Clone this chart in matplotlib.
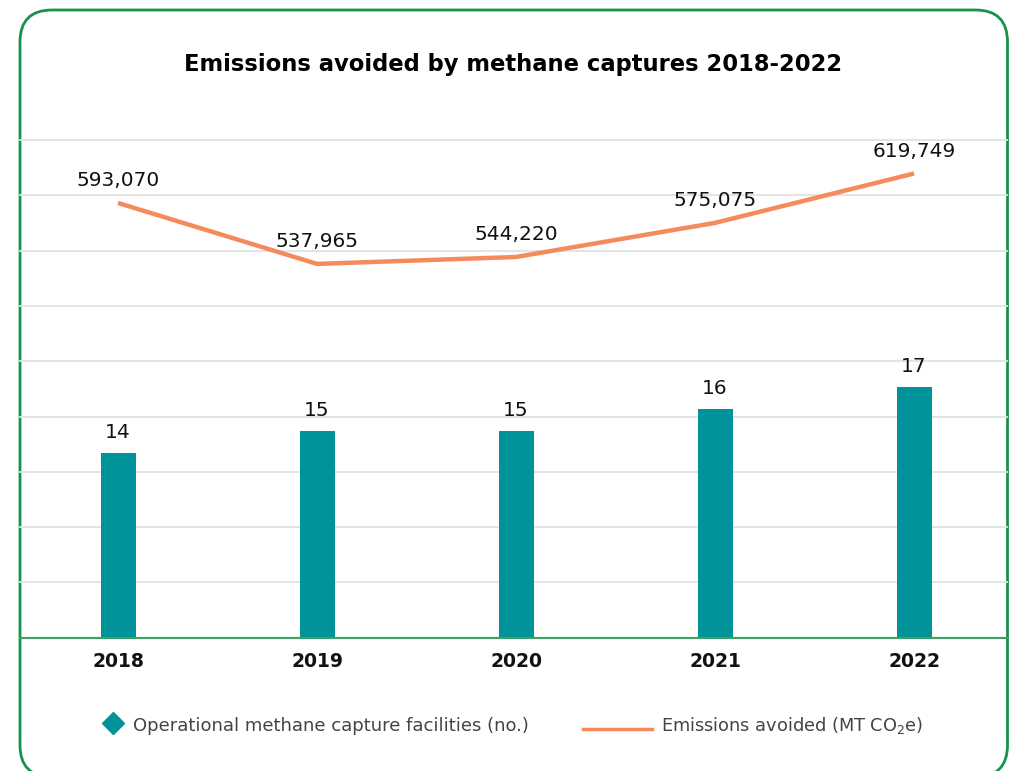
import matplotlib
matplotlib.use("Agg")
import matplotlib.pyplot as plt
from matplotlib.patches import FancyBboxPatch
from matplotlib.lines import Line2D

years = ["2018", "2019", "2020", "2021", "2022"]
facilities = [14, 15, 15, 16, 17]
emissions = [593070, 537965, 544220, 575075, 619749]

TEAL = "#00939A"
ORANGE = "#F58B5D"
GREEN = "#17924B"
GRID = "#E2E2E2"

W, H = 1011, 771
fig = plt.figure(figsize=(W / 100, H / 100), dpi=100)

def fx(p):
    return p / W

def fy(p):
    return 1 - p / H

# border
border = FancyBboxPatch((0.20, -0.06), 9.875, 7.67,
                        boxstyle="round,pad=0,rounding_size=0.32",
                        transform=fig.dpi_scale_trans, facecolor="white",
                        edgecolor=GREEN, linewidth=2.0, clip_on=False, zorder=0)
fig.add_artist(border)

left, right, top, bottom = 20, 1007, 140, 637.7
ax = fig.add_axes([fx(left), fy(bottom), fx(right - left), (bottom - top) / H])
ax.set_facecolor("none")
x = list(range(len(years)))

ax2 = ax.twinx()

ax.set_xlim(-0.4925, 4.467)
ax.set_ylim(200000, 650000)
ax.set_yticks(range(200000, 650001, 50000))
ax.yaxis.grid(True, color=GRID, linewidth=1.3)
for gl in ax.get_ygridlines():
    gl.set_clip_on(False)
ax.set_axisbelow(True)
ax.tick_params(axis="y", left=False, right=False, labelleft=False, labelright=False)
ax.plot(x, emissions, color=ORANGE, linewidth=3.2, solid_capstyle="butt", zorder=3)
for xi, v in zip(x, emissions):
    ax.annotate(f"{v:,}", (xi, v), xytext=(0, 9), textcoords="offset points",
                ha="center", va="bottom", fontsize=14.5, color="#111111")

ax2.set_ylim(5.6, 28.22)
ax2.bar(x, facilities, width=0.176, color=TEAL, zorder=2)
for xi, v in zip(x, facilities):
    ax2.annotate(str(v), (xi, v), xytext=(0, 8), textcoords="offset points",
                 ha="center", va="bottom", fontsize=14.5, color="#111111")
ax2.tick_params(axis="y", left=False, right=False, labelleft=False, labelright=False)

for a in (ax, ax2):
    for s in ("top", "left", "right"):
        a.spines[s].set_visible(False)
    a.spines["bottom"].set_color("#3FA066")
    a.spines["bottom"].set_linewidth(1.5)

ax.set_xticks(x)
ax.set_xticklabels(years, fontsize=13.5, fontweight="bold", color="#111111")
ax.tick_params(axis="x", length=0, pad=10)

fig.text(fx(513), fy(64), "Emissions avoided by methane captures 2018-2022",
         ha="center", va="center", fontsize=16.3, fontweight="bold", color="#000000")

# legend
fig.add_artist(Line2D([fx(113)], [fy(723)], marker="D", markersize=11,
                      color=TEAL, linestyle="none", transform=fig.transFigure))
fig.text(fx(133), fy(726), "Operational methane capture facilities (no.)",
         ha="left", va="center", fontsize=13, color="#444444")
fig.add_artist(Line2D([fx(583), fx(652)], [fy(729), fy(729)], color=ORANGE,
                      linewidth=2.5, transform=fig.transFigure))
fig.text(fx(661), fy(726), "Emissions avoided (MT CO$_2$e)",
         ha="left", va="center", fontsize=12.8, color="#444444")

fig.savefig("out.png", dpi=100)
